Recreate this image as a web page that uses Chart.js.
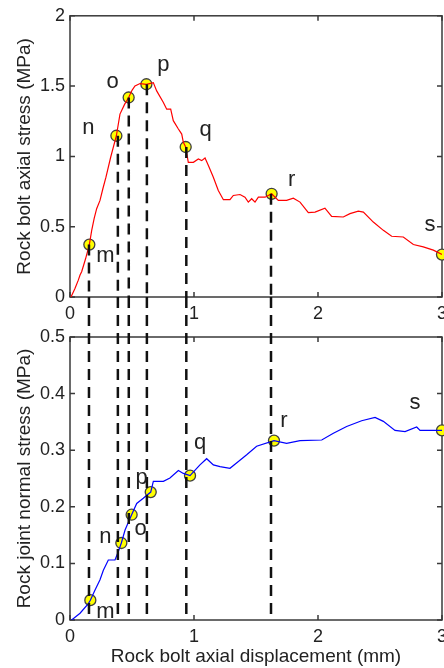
<!DOCTYPE html>
<html>
<head>
<meta charset="utf-8">
<script src="https://cdn.jsdelivr.net/npm/chart.js@4.4.1/dist/chart.umd.min.js"></script>
<style>
  html, body { margin: 0; padding: 0; background: #fff; overflow: hidden; }
  #wrap { position: relative; width: 444px; height: 668px; overflow: hidden; }
  #top { position: absolute; left: 0; top: 0; }
  #bottom { position: absolute; left: 0; top: 297px; }
</style>
</head>
<body>
<div id="wrap">
  <canvas id="top" width="460" height="335"></canvas>
  <canvas id="bottom" width="460" height="371"></canvas>
</div>
<script>
// rock bolt axial stress vs displacement (top panel)
const boltX = [0.008, 0.040, 0.067, 0.081, 0.094, 0.125, 0.156, 0.175, 0.195, 0.215, 0.242, 0.265, 0.290, 0.328, 0.374,
    0.403, 0.440, 0.473, 0.500, 0.524, 0.565, 0.616, 0.672, 0.699, 0.753, 0.780, 0.812, 0.833, 0.874, 0.901, 0.914,
    0.933, 0.954, 0.995, 1.035, 1.062, 1.089, 1.116, 1.156, 1.196, 1.237, 1.290, 1.317, 1.371, 1.411, 1.438, 1.465,
    1.492, 1.519, 1.573, 1.626, 1.680, 1.747, 1.801, 1.855, 1.922, 1.976, 2.056, 2.110, 2.204, 2.258, 2.325, 2.366,
    2.446, 2.527, 2.594, 2.688, 2.769, 2.849, 2.930, 3.0];
const boltY = [0, 0.06, 0.12, 0.156, 0.18, 0.27, 0.373, 0.474, 0.56, 0.628, 0.687, 0.77, 0.852, 0.994, 1.147,
    1.301, 1.37, 1.419, 1.47, 1.501, 1.518, 1.513, 1.525, 1.466, 1.383, 1.336, 1.336, 1.254, 1.195, 1.159, 1.100,
    1.067, 0.958, 0.958, 0.982, 0.970, 0.989, 0.935, 0.852, 0.758, 0.692, 0.692, 0.722, 0.729, 0.710, 0.675, 0.699,
    0.675, 0.710, 0.710, 0.734, 0.687, 0.687, 0.703, 0.675, 0.600, 0.604, 0.632, 0.574, 0.569, 0.593, 0.611, 0.604,
    0.533, 0.474, 0.432, 0.427, 0.373, 0.356, 0.333, 0.302];

// rock joint normal stress vs displacement (bottom panel)
const jointX = [0.013, 0.081, 0.148, 0.164, 0.202, 0.242, 0.269, 0.309, 0.363, 0.390, 0.414, 0.444, 0.497, 0.538,
    0.591, 0.651, 0.672, 0.753, 0.806, 0.874, 0.914, 0.968, 1.048, 1.102, 1.156, 1.210, 1.290, 1.358, 1.425, 1.505,
    1.645, 1.747, 1.855, 2.030, 2.124, 2.231, 2.352, 2.460, 2.527, 2.621, 2.702, 2.796, 2.823, 2.930, 3.0];
const jointY = [0, 0.012, 0.029, 0.035, 0.053, 0.071, 0.088, 0.106, 0.106, 0.121, 0.136, 0.159, 0.186, 0.206,
    0.215, 0.226, 0.245, 0.245, 0.251, 0.264, 0.259, 0.255, 0.274, 0.285, 0.274, 0.271, 0.268, 0.280, 0.292, 0.307,
    0.317, 0.312, 0.317, 0.318, 0.330, 0.342, 0.352, 0.358, 0.351, 0.335, 0.333, 0.341, 0.335, 0.335, 0.335];

// marked stages m..s
const pointNames = ["m", "n", "o", "p", "q", "r", "s"];
const boltMarkX = [0.156, 0.374, 0.473, 0.616, 0.933, 1.626, 3.0];
const boltMarkY = [0.373, 1.147, 1.419, 1.513, 1.067, 0.734, 0.302];
const jointMarkX = [0.164, 0.414, 0.497, 0.651, 0.968, 1.645, 3.0];
const jointMarkY = [0.035, 0.136, 0.186, 0.226, 0.255, 0.317, 0.335];
const dropX = [0.153, 0.386, 0.474, 0.620, 0.938, 1.621];

const xTicks = [0, 1, 2, 3];
const boltTicks = [0, 0.5, 1, 1.5, 2];
const jointTicks = [0, 0.1, 0.2, 0.3, 0.4, 0.5];

// label offsets from marker (px)
const boltOffsets = [[16, 17], [-28, -2], [-16, -9], [17, -13], [20, -11], [20, -8], [-12, -24]];
const jointOffsets = [[15, 18], [-16, 0], [9, 20], [-9, -8], [10, -27], [10, -14], [-27, -21]];

Chart.defaults.font.family = '"Liberation Sans", Arial, sans-serif';
Chart.defaults.color = "#222";

const frame = {
    id: "frame",
    beforeDatasetsDraw(chart) {
        const { ctx, chartArea: a, scales } = chart;
        ctx.save();
        ctx.strokeStyle = "#3a3a3a";
        ctx.lineWidth = 1.5;
        ctx.strokeRect(a.left, a.top, a.right - a.left, a.bottom - a.top);
        ctx.beginPath();
        scales.x.ticks.forEach((t) => {
            const px = scales.x.getPixelForValue(t.value);
            ctx.moveTo(px, a.bottom);
            ctx.lineTo(px, a.bottom - 5);
            ctx.moveTo(px, a.top);
            ctx.lineTo(px, a.top + 5);
        });
        scales.y.ticks.forEach((t) => {
            const py = scales.y.getPixelForValue(t.value);
            ctx.moveTo(a.left, py);
            ctx.lineTo(a.left + 5, py);
            ctx.moveTo(a.right, py);
            ctx.lineTo(a.right - 5, py);
        });
        ctx.stroke();
        ctx.restore();
    },
};

function drops(at, from) {
    return {
        id: "drops",
        afterDatasetsDraw(chart) {
            const { ctx, chartArea: a, scales: { x, y } } = chart;
            ctx.save();
            ctx.strokeStyle = "#111";
            ctx.lineWidth = 2.5;
            ctx.setLineDash([11, 7]);
            ctx.beginPath();
            at.forEach((v, i) => {
                const px = x.getPixelForValue(v);
                const top = from ? y.getPixelForValue(from[i]) : 0;
                ctx.moveTo(px, top);
                ctx.lineTo(px, a.bottom);
            });
            ctx.stroke();
            ctx.restore();
        },
    };
}

function letters(offsets) {
    return {
        id: "letters",
        afterDatasetsDraw(chart) {
            const ctx = chart.ctx;
            const meta = chart.getDatasetMeta(1);
            ctx.save();
            ctx.font = '22px "Liberation Sans", Arial, sans-serif';
            ctx.fillStyle = "#222";
            ctx.textAlign = "center";
            ctx.textBaseline = "alphabetic";
            meta.data.forEach((pt, i) => {
                ctx.fillText(pointNames[i], pt.x + offsets[i][0], pt.y + offsets[i][1]);
            });
            ctx.restore();
        },
    };
}

function makeChart(id, o) {
    return new Chart(document.getElementById(id), {
        type: "line",
        data: {
            datasets: [
                {
                    data: o.cx.map((v, i) => ({ x: v, y: o.cy[i] })),
                    borderColor: o.color,
                    borderWidth: 1.2,
                    pointRadius: 0,
                    tension: 0,
                },
                {
                    data: o.mx.map((v, i) => ({ x: v, y: o.my[i] })),
                    showLine: false,
                    pointRadius: 5.5,
                    pointBackgroundColor: "#ffff00",
                    pointBorderColor: "#404040",
                    pointBorderWidth: 1.3,
                    clip: false,
                },
            ],
        },
        options: {
            responsive: false,
            animation: false,
            events: [],
            layout: { padding: { top: o.padTop, right: 18, left: 0, bottom: 0 } },
            plugins: { legend: { display: false }, tooltip: { enabled: false } },
            scales: {
                x: {
                    type: "linear",
                    min: 0,
                    max: 3,
                    grid: { display: false, drawTicks: false },
                    border: { display: false },
                    afterBuildTicks: (s) => { s.ticks = xTicks.map((v) => ({ value: v })); },
                    afterFit: (s) => { s.height = o.xHeight; },
                    ticks: { padding: 6, font: { size: 18 }, maxRotation: 0, autoSkip: false, callback: (v) => String(v) },
                    title: { display: !!o.xTitle, text: o.xTitle || "", font: { size: 19 }, padding: { top: 0, bottom: 0 } },
                },
                y: {
                    type: "linear",
                    min: o.yTicks[0],
                    max: o.yTicks[o.yTicks.length - 1],
                    grid: { display: false, drawTicks: false },
                    border: { display: false },
                    afterBuildTicks: (s) => { s.ticks = o.yTicks.map((v) => ({ value: v })); },
                    afterFit: (s) => { s.width = 70; },
                    ticks: { padding: 5, font: { size: 18 }, autoSkip: false, callback: (v) => String(v) },
                    title: { display: true, text: o.yTitle, font: { size: 19 }, padding: { top: 13, bottom: 0 } },
                },
            },
        },
        plugins: [frame, drops(dropX, o.dropFrom), letters(o.offsets)],
    });
}

makeChart("top", {
    cx: boltX, cy: boltY, mx: boltMarkX, my: boltMarkY, color: "#ff0000",
    yTicks: boltTicks, yTitle: "Rock bolt axial stress (MPa)",
    padTop: 15, xHeight: 38, dropFrom: boltMarkY.slice(0, dropX.length), offsets: boltOffsets,
});

makeChart("bottom", {
    cx: jointX, cy: jointY, mx: jointMarkX, my: jointMarkY, color: "#0000ff",
    yTicks: jointTicks, yTitle: "Rock joint normal stress (MPa)", xTitle: "Rock bolt axial displacement (mm)",
    padTop: 40, xHeight: 48, dropFrom: null, offsets: jointOffsets,
});
</script>
</body>
</html>
